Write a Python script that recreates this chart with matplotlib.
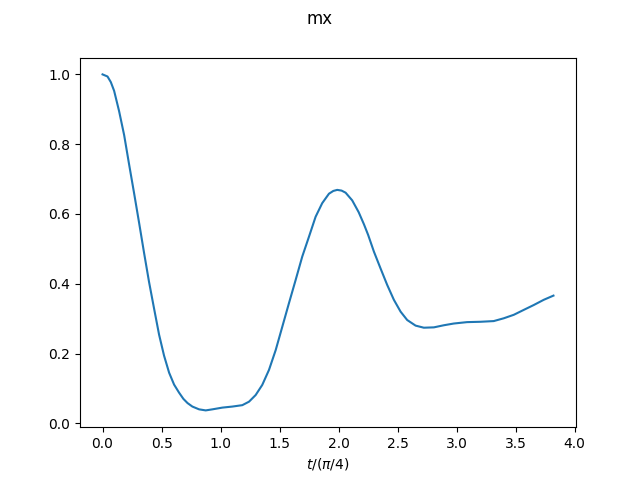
import matplotlib
matplotlib.use('Agg')
import matplotlib.pyplot as plt

# ── Data ──────────────────────────────────────────────────────────────────────
t_scaled = [0.0, 0.042, 0.07, 0.098, 0.14, 0.183, 0.225, 0.267, 0.31, 0.352,
            0.394, 0.437, 0.479, 0.521, 0.564, 0.606, 0.648, 0.685, 0.72, 0.761,
            0.818, 0.874, 0.93, 1.015, 1.1, 1.184, 1.241, 1.297, 1.353, 1.41,
            1.467, 1.523, 1.579, 1.636, 1.692, 1.749, 1.805, 1.861, 1.918, 1.955,
            1.988, 2.025, 2.059, 2.115, 2.17, 2.215, 2.25, 2.299, 2.355, 2.411,
            2.468, 2.525, 2.581, 2.652, 2.722, 2.807, 2.891, 2.976, 3.088, 3.202,
            3.314, 3.399, 3.484, 3.568, 3.653, 3.738, 3.82]
mx = [1.0, 0.994, 0.978, 0.953, 0.895, 0.826, 0.742, 0.66, 0.574, 0.488,
      0.405, 0.328, 0.254, 0.194, 0.145, 0.111, 0.088, 0.07, 0.058, 0.048,
      0.04, 0.037, 0.04, 0.045, 0.048, 0.052, 0.062, 0.081, 0.11, 0.153,
      0.21, 0.277, 0.344, 0.411, 0.478, 0.535, 0.592, 0.631, 0.658, 0.666,
      0.669, 0.667, 0.661, 0.639, 0.605, 0.57, 0.54, 0.492, 0.444, 0.397,
      0.354, 0.32, 0.296, 0.28, 0.274, 0.275, 0.281, 0.286, 0.29, 0.291,
      0.293, 0.301, 0.311, 0.325, 0.339, 0.354, 0.366]

# ── Plot ──────────────────────────────────────────────────────────────────────
fig, ax = plt.subplots(figsize=(6.4, 4.8), dpi=100)
ax.plot(t_scaled, mx)
ax.set_xlabel(r'$t/(\pi/4)$')
fig.suptitle('mx')

plt.savefig('out.png', dpi=100)
